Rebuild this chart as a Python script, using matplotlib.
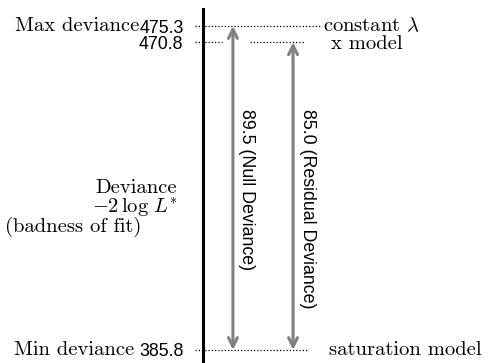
import matplotlib
matplotlib.use("Agg")
import matplotlib.pyplot as plt

plt.rcParams['mathtext.fontset'] = 'cm'

# data
max_dev = 475.3
model_dev = 470.8
min_dev = 385.8
null_dev = round(max_dev - min_dev, 1)
resid_dev = round(model_dev - min_dev, 1)
tick_values = [max_dev, model_dev, min_dev]
tick_labels = ["475.3", "470.8", "385.8"]
model_names = [r"constant $\lambda$", "x model", "saturation model"]

fig = plt.figure(figsize=(4.88, 3.63), dpi=100)
ax = fig.add_axes([203/488, 0, 285/488, 1 - 9/363])
ax.set_xlim(0, 1)
ax.set_ylim(382.2, 480.0)
for s in ['top', 'right', 'bottom']:
    ax.spines[s].set_visible(False)
ax.spines['left'].set_linewidth(2.2)
ax.spines['left'].set_zorder(5)
ax.set_xticks([])
ax.set_yticks(tick_values)
ax.set_yticklabels(tick_labels, fontfamily='Liberation Sans', fontsize=12.8)
ax.tick_params(axis='y', length=0, pad=14)

dot = dict(color='black', lw=0.9, linestyle=(0, (1, 1.6)), clip_on=False)
ax.plot([-0.028, 0.418], [max_dev, max_dev], **dot)
ax.plot([-0.028, 0.067], [model_dev, model_dev], **dot)
ax.plot([0.165, 0.358], [model_dev, model_dev], **dot)
ax.plot([-0.028, 0.368], [min_dev, min_dev], **dot)

# model names
tf = dict(fontfamily='cmr10', fontsize=14.8, va='center')
ax.text(0.42, max_dev, model_names[0], **tf)
ax.text(0.45, model_dev - 0.4, model_names[1], **tf)
ax.text(0.442, min_dev, model_names[2], **tf)

# arrows
arr = dict(arrowstyle='<->', color='#808080', lw=2.2, mutation_scale=16,
           shrinkA=0, shrinkB=0)
ax.annotate('', xy=(0.105, max_dev), xytext=(0.105, min_dev), arrowprops=arr)
ax.annotate('', xy=(0.316, model_dev), xytext=(0.316, min_dev), arrowprops=arr)

lf = dict(fontfamily='Liberation Sans', fontsize=12.8, rotation=-90,
          ha='center', va='top')
ax.text(0.154, 452.5, f"{null_dev:.1f} (Null Deviance)", **lf)
ax.text(0.365, 452.5, f"{resid_dev:.1f} (Residual Deviance)", **lf)

# left labels
lt = dict(fontfamily='cmr10', fontsize=14.8, ha='right', va='center')
fig.text(139/488, 1 - 26/363, "Max deviance", **lt)
fig.text(134/488, 1 - 350/363, "Min deviance", **lt)
fig.text(177/488, 1 - 188/363, "Deviance", **lt)
fig.text(178/488, 1 - 208/363, r"$-2\,\log\,L^{*}$", fontsize=14.8, ha='right', va='center')
fig.text(73/488, 1 - 227/363, "(badness of fit)", fontfamily='cmr10', fontsize=14.8,
         ha='center', va='center')

fig.savefig("out.png", dpi=100)
